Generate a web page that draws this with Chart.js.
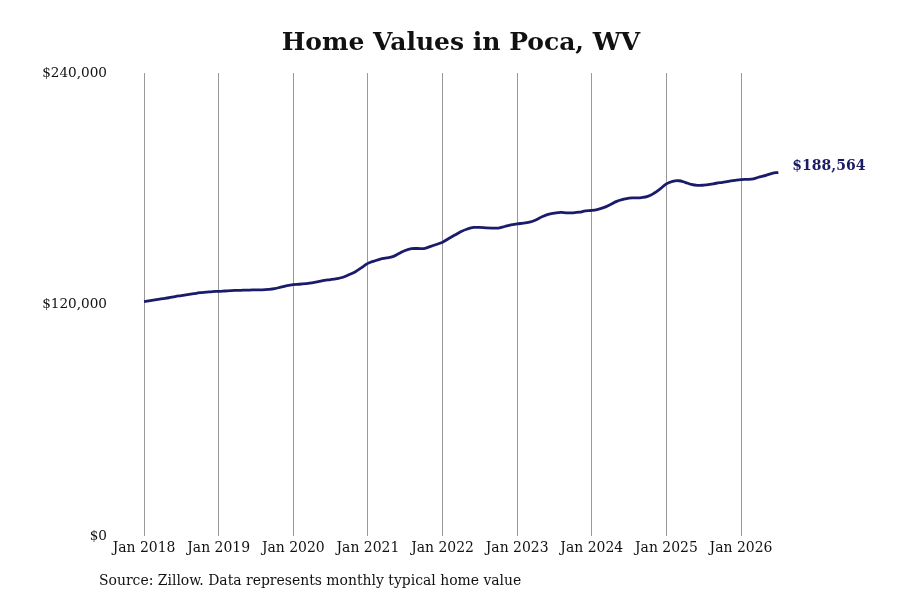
<!DOCTYPE html>
<html>
<head>
<meta charset="utf-8">
<script src="https://cdn.jsdelivr.net/npm/chart.js@4.4.1/dist/chart.umd.min.js"></script>
<style>
  html, body { margin: 0; padding: 0; background: #fff; }
  #wrap { width: 900px; height: 600px; }
</style>
</head>
<body>
<div id="wrap"><canvas id="grafico"></canvas></div>
<script>
// Typical home value, monthly, Jan 2018 .. Jul 2026 (thousands of $)
const anos = [2018, 2019, 2020, 2021, 2022, 2023, 2024, 2025, 2026];
const valores2018 = [121.6, 122.1, 122.6, 123.1, 123.6, 124.2, 124.7, 125.2, 125.7, 126.2, 126.5, 126.8];
const valores2019 = [126.9, 127.1, 127.3, 127.4, 127.5, 127.6, 127.7, 127.7, 127.9, 128.3, 129.1, 129.9];
const valores2020 = [130.4, 130.6, 130.9, 131.3, 131.9, 132.6, 133.0, 133.5, 134.2, 135.6, 137.1, 139.2];
const valores2021 = [141.4, 142.6, 143.6, 144.2, 144.9, 146.5, 148.1, 149.0, 149.1, 149.1, 150.1, 151.2];
const valores2022 = [152.4, 154.3, 156.1, 157.9, 159.2, 160.0, 160.0, 159.8, 159.7, 159.7, 160.5, 161.3];
const valores2023 = [161.9, 162.2, 162.8, 163.9, 165.5, 166.8, 167.4, 167.8, 167.6, 167.6, 167.9, 168.6];
const valores2024 = [168.8, 169.4, 170.4, 171.9, 173.5, 174.5, 175.2, 175.3, 175.5, 176.1, 177.7, 180.0];
const valores2025 = [182.6, 183.9, 184.2, 183.4, 182.3, 181.8, 181.9, 182.3, 182.9, 183.4, 183.9, 184.4];
const valores2026 = [184.8, 184.9, 185.2, 186.2, 187.0, 188.0, 188.564];
const ticksY = [0, 120000, 240000];
const titulo = "Home Values in Poca, WV";
const fonte = "Source: Zillow. Data represents monthly typical home value";

const serie = [].concat(valores2018, valores2019, valores2020, valores2021, valores2022,
  valores2023, valores2024, valores2025, valores2026).map(v => Math.round(v * 1000));
const pontos = serie.map((v, i) => ({ x: i, y: v }));
const ticksX = anos.map((a, i) => i * 12);

const moeda = v => "$" + v.toLocaleString("en-US");

// Rótulo do último valor + linha da fonte
const rotulosPlugin = {
  id: "rotulos",
  afterDatasetsDraw(chart) {
    const ctx = chart.ctx;
    const meta = chart.getDatasetMeta(0);
    const ultimo = meta.data[meta.data.length - 1];
    ctx.save();
    ctx.fillStyle = "#1a1a66";
    ctx.font = "bold 14px 'DejaVu Serif'";
    ctx.textBaseline = "middle";
    ctx.textAlign = "left";
    ctx.fillText(moeda(serie[serie.length - 1]), ultimo.x + 14, ultimo.y - 6);

    ctx.fillStyle = "#111";
    ctx.font = "15.5px 'DejaVu Serif Condensed', 'DejaVu Serif'";
    ctx.fillText(fonte, 99, 581);
    ctx.restore();
  }
};

const ctx = document.getElementById("grafico").getContext("2d");
new Chart(ctx, {
  type: "line",
  data: {
    datasets: [{
      data: pontos,
      borderColor: "#1b1b6b",
      borderWidth: 2.8,
      pointRadius: 0,
      tension: 0.4,
      fill: false
    }]
  },
  options: {
    responsive: true,
    maintainAspectRatio: false,
    animation: false,
    layout: { padding: { left: 42, right: 20, top: 10, bottom: 41 } },
    scales: {
      x: {
        type: "linear",
        min: -5.15,
        max: 118.35,
        afterBuildTicks: function (scale) {
          scale.ticks = ticksX.map(v => ({ value: v }));
        },
        grid: { color: "#999", lineWidth: 1, drawTicks: false },
        border: { display: false },
        ticks: {
          padding: 2,
          color: "#111",
          font: { family: "'DejaVu Serif Condensed', 'DejaVu Serif'", size: 15.5 },
          maxRotation: 0,
          autoSkip: false,
          callback: function (value) {
            return "Jan " + anos[value / 12];
          }
        }
      },
      y: {
        min: 0,
        max: 240000,
        afterBuildTicks: function (scale) {
          scale.ticks = ticksY.map(v => ({ value: v }));
        },
        afterFit: function (scale) { scale.width = 70; },
        grid: { display: false, drawTicks: false, tickLength: 0 },
        border: { display: false },
        ticks: {
          padding: 5,
          color: "#111",
          font: { family: "'DejaVu Serif'", size: 13.6 },
          callback: function (value) { return moeda(value); }
        }
      }
    },
    plugins: {
      legend: { display: false },
      tooltip: { enabled: false },
      title: {
        display: true,
        text: titulo,
        color: "#111",
        font: { family: "'DejaVu Serif'", size: 25, weight: "bold" },
        padding: { top: 18, bottom: 15 }
      }
    }
  },
  plugins: [rotulosPlugin]
});
</script>
</body>
</html>
